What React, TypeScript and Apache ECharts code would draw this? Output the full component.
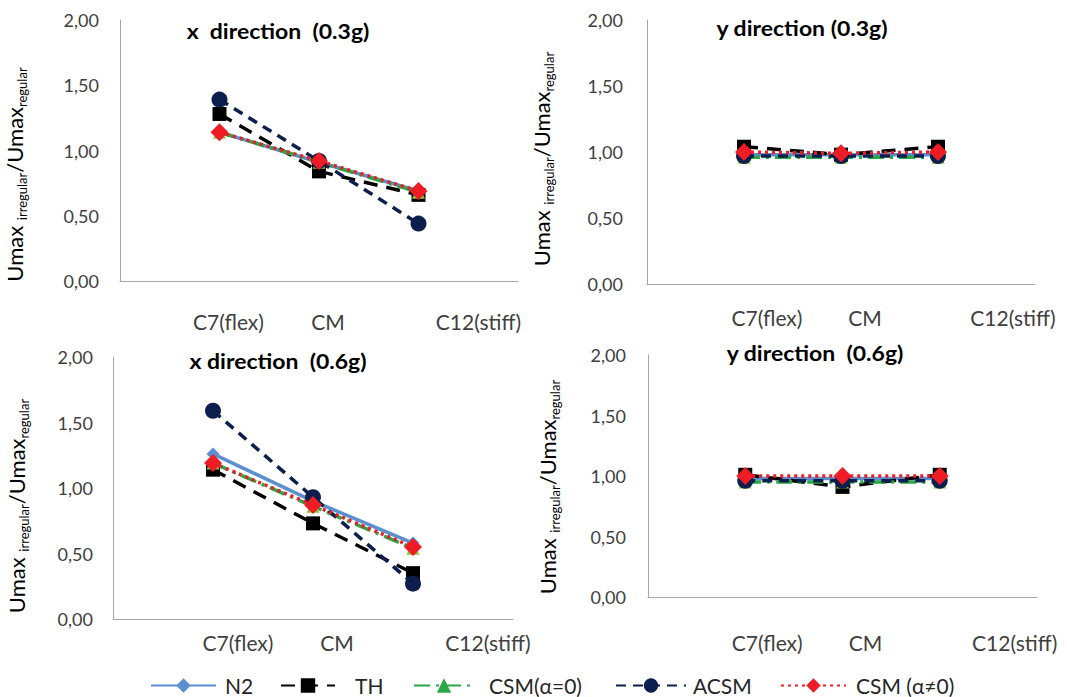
import React, { useEffect, useRef } from "react";
import * as echarts from "echarts";

// Category axis: blank slots at both ends so the three stations sit at 1/4, 2/4, 3/4
const categories = ["", "C7(flex)", "CM", "C12(stiff)", ""];
const yTickLabels = ["0,00", "0,50", "1,00", "1,50", "2,00"];
const seriesNames = ["N2", "TH", "CSM(α=0)", "ACSM", "CSM (α≠0)"];
const panelTitles = [
  "x  direction  (0.3g)",
  "y direction (0.3g)",
  "x direction  (0.6g)",
  "y direction  (0.6g)",
];

// Umax irregular / Umax regular at C7(flex), CM, C12(stiff)
// x direction, 0.3g
const x03N2 = [1.14, 0.91, 0.69];
const x03TH = [1.28, 0.84, 0.66];
const x03CSM0 = [1.14, 0.91, 0.68];
const x03ACSM = [1.39, 0.92, 0.44];
const x03CSMa = [1.14, 0.92, 0.69];
// y direction, 0.3g
const y03N2 = [0.98, 0.98, 0.98];
const y03TH = [1.04, 0.98, 1.04];
const y03CSM0 = [0.96, 0.96, 0.96];
const y03ACSM = [0.97, 0.97, 0.97];
const y03CSMa = [1.0, 0.99, 1.0];
// x direction, 0.6g
const x06N2 = [1.26, 0.9, 0.58];
const x06TH = [1.14, 0.73, 0.35];
const x06CSM0 = [1.19, 0.86, 0.54];
const x06ACSM = [1.59, 0.93, 0.27];
const x06CSMa = [1.19, 0.87, 0.55];
// y direction, 0.6g
const y06N2 = [0.98, 0.98, 0.98];
const y06TH = [1.01, 0.91, 1.01];
const y06CSM0 = [0.95, 0.95, 0.95];
const y06ACSM = [0.96, 0.96, 0.96];
const y06CSMa = [1.0, 1.0, 1.0];

const panelData = [
  [x03N2, x03TH, x03CSM0, x03ACSM, x03CSMa],
  [y03N2, y03TH, y03CSM0, y03ACSM, y03CSMa],
  [x06N2, x06TH, x06CSM0, x06ACSM, x06CSMa],
  [y06N2, y06TH, y06CSM0, y06ACSM, y06CSMa],
];

// Panel geometry
const layout = [
  { left: 120, top: 20, width: 398, height: 261, tx: 278, ty: 32, dx: [9, 9, 60], catMargin: 30, yMargin: 21, nameGap: 92, nameShift: 48 },
  { left: 647, top: 20, width: 388, height: 264, tx: 802, ty: 29, dx: [23, 24, 75], catMargin: 23, yMargin: 24, nameGap: 92, nameShift: 14 },
  { left: 113, top: 357, width: 400, height: 262, tx: 278, ty: 362, dx: [25, 24, 75], catMargin: 13, yMargin: 20, nameGap: 83, nameShift: 36 },
  { left: 648, top: 355, width: 389, height: 242, tx: 815, ty: 354, dx: [22, 23, 75], catMargin: 35, yMargin: 22, nameGap: 87, nameShift: 22 },
];

const legendLayout = [
  { left: 150, width: 65, textPad: 4 },
  { left: 280, width: 54, textPad: 15 },
  { left: 413, width: 60, textPad: 10 },
  { left: 615, width: 70, textPad: 2 },
  { left: 780, width: 65, textPad: 5 },
];

const FONT = "Lato, 'Open Sans', sans-serif";
const AXIS_GREY = "#a6a6a6";
const LABEL_GREY = "#404040";

const styles = [
  { color: "#5b8fd0", type: "solid" as any, symbol: "diamond", size: 13, fill: "#5b8fd0", legendFill: "#5b8fd0" },
  { color: "#000000", type: [14, 9] as any, symbol: "rect", size: 14, fill: "#000000", legendFill: "#000000" },
  { color: "#2aa845", type: [16, 6, 3, 6] as any, symbol: "triangle", size: 13, fill: "#8cc63f", legendFill: "#2aa845" },
  { color: "#0b1e4d", type: [10, 7] as any, symbol: "circle", size: 16, fill: "#0b1e4d", legendFill: "#0b1e4d" },
  { color: "#ee1c25", type: [3, 4] as any, symbol: "diamond", size: 18, fill: "#ee1c25", legendFill: "#ee1c25" },
];

export default function App() {
  const ref = useRef<HTMLDivElement>(null);

  useEffect(() => {
    if (!ref.current) return;
    const chart = echarts.init(ref.current, undefined, { renderer: "svg" });

    const grid = layout.map((p) => ({
      left: p.left,
      top: p.top,
      width: p.width,
      height: p.height,
      containLabel: false,
    }));

    const catStyle = (dx: number) => ({
      padding: [0, 0, 0, 2 * dx],
      fontSize: 21,
      fontFamily: FONT,
      color: LABEL_GREY,
    });

    const xAxis = layout.map((p, i) => ({
      type: "category",
      gridIndex: i,
      data: categories,
      boundaryGap: false,
      axisLine: { lineStyle: { color: AXIS_GREY, width: 1 } },
      axisTick: { show: false },
      splitLine: { show: false },
      axisLabel: {
        interval: 0,
        margin: p.catMargin,
        formatter: (v: string, idx: number) => (v ? `{c${idx}|${v}}` : ""),
        rich: { c1: catStyle(p.dx[0]), c2: catStyle(p.dx[1]), c3: catStyle(p.dx[2]) },
      },
    }));

    const yAxis = layout.map((p, i) => ({
      type: "value",
      gridIndex: i,
      min: 0,
      max: 2,
      interval: 0.5,
      axisLine: { show: true, lineStyle: { color: AXIS_GREY, width: 1 } },
      axisTick: { show: false },
      splitLine: { show: false },
      axisLabel: {
        margin: p.yMargin,
        fontSize: 18,
        fontFamily: FONT,
        color: LABEL_GREY,
        formatter: (_v: number, idx: number) => yTickLabels[idx],
      },
      name: "{a|Umax }{b|irregular}{a|/Umax}{b|regular}",
      nameLocation: "middle",
      nameGap: p.nameGap,
      nameRotate: 90,
      nameTextStyle: {
        padding: [0, p.nameShift, 0, 0],
        rich: {
          a: { fontSize: 22, fontFamily: FONT, color: "#000", lineHeight: 25, verticalAlign: "top" },
          b: { fontSize: 13, fontFamily: FONT, color: "#000", lineHeight: 14, padding: [14, 0, 0, 0], verticalAlign: "bottom" },
        },
      },
    }));

    const series: any[] = [];
    panelData.forEach((sets, pi) => {
      sets.forEach((vals, si) => {
        const s = styles[si];
        series.push({
          type: "line",
          name: seriesNames[si],
          xAxisIndex: pi,
          yAxisIndex: pi,
          data: vals.map((v, k) => [k + 1, v]),
          symbol: s.symbol,
          symbolSize: s.size,
          lineStyle: { color: s.color, width: 3.5, type: s.type },
          itemStyle: { color: s.fill, borderWidth: 0 },
          z: 2 + si,
        });
      });
    });

    const legend = seriesNames.map((n, i) => ({
      data: [{ name: n, itemStyle: { color: styles[i].legendFill } }],
      left: legendLayout[i].left,
      top: 675,
      padding: 0,
      itemWidth: legendLayout[i].width,
      itemHeight: 18,
      textStyle: {
        fontSize: 21,
        fontFamily: FONT,
        color: "#262626",
        padding: [0, 0, 0, legendLayout[i].textPad],
      },
    }));

    const graphic = layout.map((p, i) => ({
      type: "text",
      x: p.tx,
      y: p.ty,
      scaleX: 1.15,
      style: {
        text: panelTitles[i],
        align: "center",
        verticalAlign: "middle",
        fontSize: 20,
        fontWeight: "bold",
        fontFamily: FONT,
        fill: "#000",
      },
    }));

    chart.setOption({
      animation: false,
      backgroundColor: "#ffffff",
      grid,
      xAxis,
      yAxis,
      series,
      legend,
      graphic,
    } as any);

    return () => chart.dispose();
  }, []);

  return (
    <div
      ref={ref}
      style={{ position: "fixed", left: 0, top: 0, width: 1067, height: 697, background: "#fff" }}
    />
  );
}
